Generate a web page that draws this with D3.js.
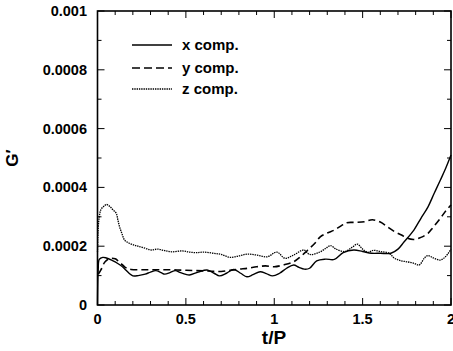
<!DOCTYPE html>
<html><head><meta charset="utf-8">
<script src="https://cdn.jsdelivr.net/npm/d3@7"></script>
<style>body{margin:0;background:#fff}svg{display:block}text{font-family:"Liberation Sans",Arial,sans-serif;fill:#000}</style>
</head><body><svg id="c" width="453" height="351"></svg>
<script>
// values in units of 1e-4
const xT = [0,0.004,0.01,0.03,0.05,0.08,0.1,0.13,0.15,0.18,0.2,0.23,0.27,0.3,0.33,0.36,0.38,0.41,0.44,0.47,0.5,0.52,0.57,0.62,0.66,0.69,0.73,0.77,0.81,0.845,0.88,0.92,0.955,0.99,1.03,1.07,1.11,1.14,1.17,1.2,1.24,1.29,1.34,1.39,1.45,1.5,1.55,1.6,1.66,1.7,1.735,1.79,1.83,1.87,1.905,1.94,1.97,2.0];
const xComp = [0,1.2,1.55,1.62,1.6,1.53,1.47,1.35,1.25,1.07,0.99,1.0,1.05,1.12,1.17,1.1,1.05,1.1,1.17,1.1,1.04,1.02,1.12,1.19,1.08,0.99,1.08,1.21,1.08,0.96,1.03,1.13,1.07,0.99,1.08,1.25,1.36,1.28,1.22,1.25,1.5,1.56,1.55,1.78,1.87,1.82,1.76,1.76,1.76,1.9,2.15,2.55,2.95,3.34,3.8,4.25,4.65,5.1];
const yT = [0.005,0.02,0.04,0.06,0.08,0.1,0.115,0.135,0.153,0.17,0.19,0.25,0.3,0.35,0.4,0.45,0.5,0.55,0.6,0.65,0.7,0.75,0.8,0.85,0.9,0.95,1.0,1.05,1.11,1.15,1.19,1.23,1.26,1.3,1.34,1.38,1.41,1.46,1.51,1.555,1.6,1.64,1.68,1.72,1.754,1.79,1.83,1.87,1.9,1.94,1.97,2.0];
const yComp = [1.05,1.2,1.45,1.56,1.59,1.57,1.51,1.4,1.3,1.24,1.21,1.2,1.2,1.2,1.2,1.19,1.18,1.17,1.16,1.15,1.14,1.18,1.22,1.25,1.3,1.33,1.3,1.36,1.47,1.65,1.87,2.1,2.32,2.45,2.55,2.7,2.8,2.81,2.83,2.9,2.82,2.66,2.5,2.38,2.27,2.23,2.3,2.44,2.65,2.95,3.2,3.4];
const zT = [0,0.004,0.01,0.02,0.04,0.05,0.07,0.09,0.106,0.115,0.125,0.14,0.153,0.18,0.21,0.23,0.27,0.305,0.34,0.38,0.42,0.48,0.52,0.56,0.6,0.655,0.7,0.75,0.8,0.845,0.9,0.96,1.015,1.06,1.11,1.167,1.2,1.25,1.29,1.318,1.35,1.4,1.44,1.47,1.5,1.53,1.56,1.6,1.65,1.68,1.72,1.75,1.79,1.82,1.85,1.87,1.9,1.94,1.97,2.0];
const zComp = [1.8,2.6,3.0,3.25,3.38,3.42,3.35,3.22,3.12,2.9,2.66,2.4,2.21,2.1,2.03,2.0,1.93,1.87,1.9,1.85,1.81,1.84,1.8,1.78,1.8,1.76,1.72,1.62,1.67,1.73,1.7,1.64,1.8,1.59,1.7,1.87,1.72,1.78,1.92,2.02,1.9,1.82,1.96,2.07,1.9,1.79,1.86,1.82,1.76,1.59,1.5,1.47,1.42,1.36,1.6,1.68,1.6,1.53,1.65,1.9];
const xTicks = [0,0.5,1,1.5,2];
const xTickLabels = ["0","0.5","1","1.5","2"];
const yTicks = [0,2,4,6,8,10];
const yTickLabels = ["0","0.0002","0.0004","0.0006","0.0008","0.001"];
const legendLabels = ["x comp.","y comp.","z comp."];

const svg = d3.select("#c");
const L=97.5, R=451, T=11, B=305;
const x = d3.scaleLinear().domain([0,2]).range([L,R]);
const y = d3.scaleLinear().domain([0,10]).range([B,T]);

const styles = [{w:1.4,d:null},{w:1.6,d:"7,4"},{w:1.3,d:"1.4,0.9"}];
const series = [[xT,xComp],[yT,yComp],[zT,zComp]];
const line = d3.line().x(d=>x(d[0])).y(d=>y(d[1])).curve(d3.curveCatmullRom.alpha(0.5));
const g = svg.append("g");
series.forEach((s,i)=>{
  const pts = s[0].map((t,j)=>[t,s[1][j]]);
  g.append("path").attr("d",line(pts)).attr("fill","none").attr("stroke","#000")
   .attr("stroke-width",styles[i].w).attr("stroke-dasharray",styles[i].d);
});

// ticks (inward, mirrored)
const minorX = d3.range(0,2.0001,0.1), minorY = d3.range(0,10.0001,1);
const tk = svg.append("g").attr("stroke","#000").attr("stroke-width",1);
minorX.forEach(v=>{
  const major = Math.abs(v*2-Math.round(v*2))<1e-6, len = major?7:4;
  tk.append("line").attr("x1",x(v)).attr("x2",x(v)).attr("y1",B).attr("y2",B-len);
  tk.append("line").attr("x1",x(v)).attr("x2",x(v)).attr("y1",T).attr("y2",T+len);
});
minorY.forEach(v=>{
  const major = Math.round(v)%2===0, len = major?7:4;
  tk.append("line").attr("y1",y(v)).attr("y2",y(v)).attr("x1",L).attr("x2",L+len);
  tk.append("line").attr("y1",y(v)).attr("y2",y(v)).attr("x1",R).attr("x2",R-len);
});
svg.append("rect").attr("x",L).attr("y",T).attr("width",R-L).attr("height",B-T)
  .attr("fill","none").attr("stroke","#000").attr("stroke-width",1.6);

xTicks.forEach((v,i)=>svg.append("text").attr("x",x(v)).attr("y",324).attr("text-anchor","middle")
  .style("font-size","14.5px").style("font-weight","bold").text(xTickLabels[i]));
yTicks.forEach((v,i)=>svg.append("text").attr("x",87).attr("y",y(v)+5).attr("text-anchor","end")
  .style("font-size","14.5px").style("font-weight","bold").text(yTickLabels[i]));

svg.append("text").attr("x",274).attr("y",344).attr("text-anchor","middle")
  .style("font-size","19px").style("font-weight","bold").text("t/P");
svg.append("text").attr("transform","translate(18,158) rotate(-90)").attr("text-anchor","middle")
  .style("font-size","17px").style("font-weight","bold").text("G′");

const ly=[45,68,89];
legendLabels.forEach((lab,i)=>{
  svg.append("line").attr("x1",132).attr("x2",172).attr("y1",ly[i]).attr("y2",ly[i])
    .attr("stroke","#000").attr("stroke-width",styles[i].w).attr("stroke-dasharray",i===1?"8,4":styles[i].d);
  svg.append("text").attr("x",182).attr("y",ly[i]+5).style("font-size","15px").style("font-weight","bold").text(lab);
});
</script></body></html>
